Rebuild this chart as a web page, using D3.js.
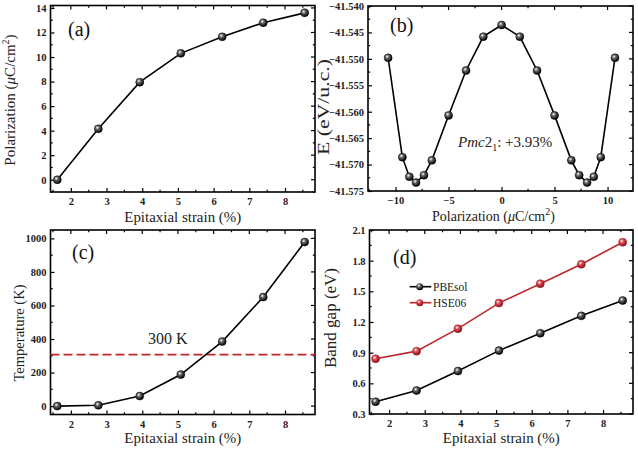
<!DOCTYPE html>
<html><head><meta charset="utf-8">
<script src="https://cdn.jsdelivr.net/npm/d3@7"></script>
<style>
body{margin:0;background:#fff;}
svg text{font-family:"Liberation Serif","Times New Roman",serif;}
</style></head>
<body><svg id="chart" width="638" height="451"></svg>
<script>
// ---------- data ----------
const strain = [1.62, 2.77, 3.93, 5.08, 6.24, 7.39, 8.55];
const polarization = [0, 4.15, 7.95, 10.3, 11.65, 12.8, 13.6];
const bPol = [-10.7, -9.36, -8.7, -8.07, -7.32, -6.58, -5.0, -3.35, -1.72, 0, 1.72, 3.35, 5.0, 6.58, 7.32, 8.07, 8.7, 9.36, 10.7];
const bEnergy = [-41.5498, -41.5686, -41.5723, -41.5734, -41.5720, -41.5692, -41.5607, -41.5522, -41.5458, -41.5436,
                 -41.5458, -41.5522, -41.5607, -41.5692, -41.5720, -41.5734, -41.5723, -41.5686, -41.5498];
const temperature = [0, 5, 60, 188, 385, 650, 978];
const roomTemp = 307;
const gapPBEsol = [0.42, 0.53, 0.72, 0.92, 1.09, 1.26, 1.41];
const gapHSE06 = [0.84, 0.915, 1.135, 1.385, 1.575, 1.765, 1.98];
const strainTicks = [2, 3, 4, 5, 6, 7, 8];
const polTicks = [0, 2, 4, 6, 8, 10, 12, 14];
const bXTicks = [-10, -5, 0, 5, 10];
const bYTicks = [-41.575, -41.570, -41.565, -41.560, -41.555, -41.550, -41.545, -41.540];
const tempTicks = [0, 200, 400, 600, 800, 1000];
const gapTicks = [0.3, 0.6, 0.9, 1.2, 1.5, 1.8, 2.1];
const legendNames = ["PBEsol", "HSE06"];

const FONT = "'Liberation Serif','Times New Roman',serif";
const svg = d3.select("#chart");
const defs = svg.append("defs");
function ballGrad(id, base, dark) {
  const g = defs.append("radialGradient").attr("id", id).attr("cx", "38%").attr("cy", "35%").attr("r", "65%");
  g.append("stop").attr("offset", "0%").attr("stop-color", "#ffffff");
  g.append("stop").attr("offset", "35%").attr("stop-color", base);
  g.append("stop").attr("offset", "100%").attr("stop-color", dark);
}
ballGrad("ballK", "#666", "#000");
ballGrad("ballR", "#e0505a", "#8a0f18");

function fit(t, len) {
  if (len) t.attr("textLength", len).attr("lengthAdjust", "spacingAndGlyphs");
  return t;
}

function panel(o) {
  const x = d3.scaleLinear().domain(o.xd).range([o.l, o.r]);
  const y = d3.scaleLinear().domain(o.yd).range([o.b, o.t]);
  const g = svg.append("g").attr("font-family", FONT);
  const tickLen = 4, minLen = 2.2;
  const isMaj = (v, arr) => arr.some(t => Math.abs(t - v) < 1e-6);
  const xm = d3.range(Math.ceil(o.xd[0] / o.xMinStep), Math.floor(o.xd[1] / o.xMinStep) + 1)
    .map(k => +(k * o.xMinStep).toFixed(6)).filter(v => !isMaj(v, o.xTicks));
  const ym = d3.range(Math.ceil(o.yd[0] / o.yMinStep - 1e-6), Math.floor(o.yd[1] / o.yMinStep + 1e-6) + 1)
    .map(k => +(k * o.yMinStep).toFixed(6)).filter(v => !isMaj(v, o.yTicks));
  const ax = d3.axisBottom(x).tickValues(o.xTicks).tickSizeInner(-tickLen).tickSizeOuter(0).tickPadding(6).tickFormat(o.xFmt || d3.format("d"));
  const gx = g.append("g").attr("transform", `translate(0,${o.b})`).call(ax);
  gx.select(".domain").remove();
  const ay = d3.axisLeft(y).tickValues(o.yTicks).tickSizeInner(-tickLen).tickSizeOuter(0).tickPadding(4).tickFormat(o.yFmt || d3.format("d"));
  const gy = g.append("g").attr("transform", `translate(${o.l},0)`).call(ay);
  gy.select(".domain").remove();
  [gx, gy].forEach(a => {
    a.attr("font-family", FONT);
    a.selectAll("text").attr("font-size", 10.5).attr("font-weight", "bold").attr("fill", "#222").attr("font-family", FONT);
    a.selectAll("line").attr("stroke", "#000").attr("stroke-width", 1.2);
  });
  const tg = g.append("g").attr("stroke", "#000").attr("stroke-width", 1.2);
  o.xTicks.forEach(v => tg.append("line").attr("x1", x(v)).attr("x2", x(v)).attr("y1", o.t).attr("y2", o.t + tickLen));
  o.yTicks.forEach(v => tg.append("line").attr("y1", y(v)).attr("y2", y(v)).attr("x1", o.r).attr("x2", o.r - tickLen));
  xm.forEach(v => {
    tg.append("line").attr("x1", x(v)).attr("x2", x(v)).attr("y1", o.b).attr("y2", o.b - minLen);
    tg.append("line").attr("x1", x(v)).attr("x2", x(v)).attr("y1", o.t).attr("y2", o.t + minLen);
  });
  ym.forEach(v => {
    tg.append("line").attr("y1", y(v)).attr("y2", y(v)).attr("x1", o.l).attr("x2", o.l + minLen);
    tg.append("line").attr("y1", y(v)).attr("y2", y(v)).attr("x1", o.r).attr("x2", o.r - minLen);
  });
  g.append("rect").attr("x", o.l).attr("y", o.t).attr("width", o.r - o.l).attr("height", o.b - o.t)
    .attr("fill", "none").attr("stroke", "#000").attr("stroke-width", 1.6);
  fit(g.append("text").attr("x", (o.l + o.r) / 2 + (o.xLabDx || 0)).attr("y", o.b + o.xLabDy).attr("text-anchor", "middle")
    .attr("font-family", FONT).attr("font-size", o.xLabSize || 15).attr("fill", "#222").html(o.xLabel), o.xLabLen);
  fit(g.append("text").attr("transform", `translate(${o.l - o.yLabOff},${o.yLabC}) rotate(-90)`)
    .attr("text-anchor", "middle").attr("font-family", FONT).attr("font-size", o.yLabSize || 15.5).attr("fill", "#222").html(o.yLabel), o.yLabLen);
  g.append("text").attr("x", o.tagX).attr("y", o.tagY).attr("font-family", FONT).attr("font-size", 20).attr("fill", "#111").text(o.tag);
  return {x, y, g};
}

function series(p, xs, ys, color, grad) {
  const pts = xs.map((v, i) => [v, ys[i]]);
  p.g.append("path").datum(pts).attr("fill", "none").attr("stroke", color).attr("stroke-width", 1.6)
    .attr("d", d3.line().x(d => p.x(d[0])).y(d => p.y(d[1])));
  p.g.selectAll(null).data(pts).enter().append("circle")
    .attr("cx", d => p.x(d[0])).attr("cy", d => p.y(d[1])).attr("r", 4)
    .attr("fill", `url(#${grad})`).attr("stroke", color === "#000" ? "#000" : "#9a1520").attr("stroke-width", 0.5);
}

const sx = [1.43, 8.84];
const polUnit = "Polarization (<tspan font-style='italic'>μ</tspan>C/cm<tspan dy='-6' font-size='10'>2</tspan><tspan dy='6'>)</tspan>";
// (a)
const pa = panel({l: 50.5, r: 315, t: 5.5, b: 192, xd: sx, yd: [-1, 14.2],
  xTicks: strainTicks, yTicks: polTicks, xMinStep: 0.5, yMinStep: 1,
  xLabel: "Epitaxial strain (%)", xLabDy: 30, xLabLen: 117,
  yLabel: polUnit, yLabC: 100, yLabOff: 36, yLabSize: 15,
  tag: "(a)", tagX: 68, tagY: 35.5});
series(pa, strain, polarization, "#000", "ballK");

// (b)
const pb = panel({l: 368, r: 633, t: 6, b: 191, xd: [-12.6, 12.4], yd: [-41.575, -41.540],
  xTicks: bXTicks, yTicks: bYTicks, xMinStep: 2.5, yMinStep: 0.0025,
  xFmt: d3.format("d"), yFmt: d3.format(".3f"),
  xLabel: polUnit, xLabDy: 29.5, xLabSize: 14, xLabDx: -7,
  yLabel: "E (eV/u.c.)", yLabC: 107, yLabOff: 39.5, yLabLen: 96, yLabSize: 17,
  tag: "(b)", tagX: 390, tagY: 31.5});
series(pb, bPol, bEnergy, "#000", "ballK");
pb.g.append("text").attr("x", 458).attr("y", 146.5).attr("font-family", FONT).attr("font-size", 15).attr("fill", "#222")
  .html("<tspan font-style='italic'>Pmc</tspan>2<tspan dy='4' font-size='10'>1</tspan><tspan dy='-4'>: +3.93%</tspan>");

// (c)
const pc = panel({l: 50.5, r: 315, t: 230, b: 414.5, xd: sx, yd: [-50, 1050],
  xTicks: strainTicks, yTicks: tempTicks, xMinStep: 0.5, yMinStep: 100,
  xLabel: "Epitaxial strain (%)", xLabDy: 28, xLabLen: 117,
  yLabel: "Temperature (K)", yLabC: 333, yLabOff: 27, yLabLen: 97,
  tag: "(c)", tagX: 72, tagY: 258.5});
pc.g.append("line").attr("x1", pc.x(sx[0])).attr("x2", pc.x(sx[1])).attr("y1", pc.y(roomTemp)).attr("y2", pc.y(roomTemp))
  .attr("stroke", "#c0272d").attr("stroke-width", 1.6).attr("stroke-dasharray", "9,4");
pc.g.append("text").attr("x", 148).attr("y", 344).attr("font-family", FONT).attr("font-size", 16).attr("fill", "#222").text("300 K");
series(pc, strain, temperature, "#000", "ballK");

// (d)
const pd = panel({l: 369.5, r: 633, t: 230, b: 414, xd: [1.45, 8.84], yd: [0.3, 2.1],
  xTicks: strainTicks, yTicks: gapTicks, xMinStep: 0.5, yMinStep: 0.15,
  yFmt: d3.format(".1f"),
  xLabel: "Epitaxial strain (%)", xLabDy: 29, xLabLen: 117,
  yLabel: "Band gap (eV)", yLabC: 318, yLabOff: 33.5, yLabLen: 100, yLabSize: 16,
  tag: "(d)", tagX: 393, tagY: 263.5});
series(pd, strain, gapPBEsol, "#000", "ballK");
series(pd, strain, gapHSE06, "#c0272d", "ballR");
const legendCols = ["#000", "#c0272d"];
const legendGrads = ["ballK", "ballR"];
legendNames.forEach((name, i) => {
  const ly = 286.7 + i * 16;
  pd.g.append("line").attr("x1", 409.7).attr("x2", 431.3).attr("y1", ly).attr("y2", ly).attr("stroke", legendCols[i]).attr("stroke-width", 1.6);
  pd.g.append("circle").attr("cx", 419.7).attr("cy", ly).attr("r", 3.5).attr("fill", `url(#${legendGrads[i]})`);
  pd.g.append("text").attr("x", 433).attr("y", ly + 4.2).attr("font-family", FONT).attr("font-size", 11.5).attr("fill", "#222").text(name);
});
</script></body></html>
